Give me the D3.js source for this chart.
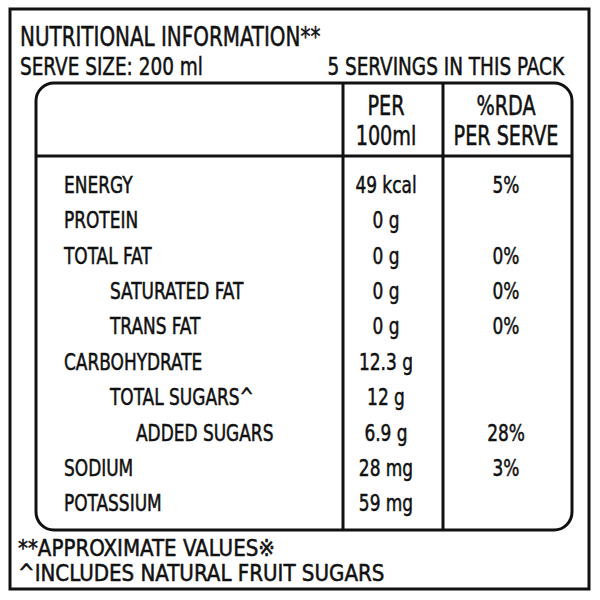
<!DOCTYPE html>
<html><head><meta charset="utf-8">
<script src="https://cdn.jsdelivr.net/npm/d3@7"></script>
<style>body{margin:0;background:#fff}text{font-family:"DejaVu Sans",sans-serif;font-stretch:condensed;fill:#111;stroke:#111;stroke-width:0.5}</style>
</head><body>
<script>
// label data
var nutrients = ['ENERGY','PROTEIN','TOTAL FAT','SATURATED FAT','TRANS FAT','CARBOHYDRATE','TOTAL SUGARS^','ADDED SUGARS','SODIUM','POTASSIUM'];
var indent = [0,0,0,1,1,0,1,2,0,0];
var per100 = ['49 kcal','0 g','0 g','0 g','0 g','12.3 g','12 g','6.9 g','28 mg','59 mg'];
var rdaServe = ['5%','','0%','0%','0%','','','28%','3%',''];

var width = 600, height = 600;
var svg = d3.select('body').append('svg').attr('width', width).attr('height', height);

svg.append('rect').attr('x', 10).attr('y', 9).attr('width', 579).attr('height', 580)
	.attr('fill', 'none').attr('stroke', '#111').attr('stroke-width', 3);

svg.append('text').attr('x', 20).attr('y', 46).attr('font-size', 27).text('NUTRITIONAL INFORMATION**');
svg.append('text').attr('x', 20).attr('y', 75).attr('font-size', 25).text('SERVE SIZE: 200 ml');
svg.append('text').attr('x', 564).attr('y', 75).attr('font-size', 25).attr('text-anchor', 'end').text('5 SERVINGS IN THIS PACK');

// inner box
svg.append('rect').attr('x', 36).attr('y', 83).attr('width', 536).attr('height', 447).attr('rx', 18)
	.attr('fill', 'none').attr('stroke', '#111').attr('stroke-width', 3);
svg.append('line').attr('x1', 36).attr('x2', 572).attr('y1', 156).attr('y2', 156).attr('stroke', '#111').attr('stroke-width', 3);
[343, 443].forEach(function(x) {
	svg.append('line').attr('x1', x).attr('x2', x).attr('y1', 83).attr('y2', 530).attr('stroke', '#111').attr('stroke-width', 3);
});

var colX = {val: 386, rda: 506};
[['PER', 115], ['100ml', 145]].forEach(function(t) {
	svg.append('text').attr('x', colX.val).attr('y', t[1]).attr('font-size', 26).attr('text-anchor', 'middle').text(t[0]);
});
[['%RDA', 115], ['PER SERVE', 145]].forEach(function(t) {
	svg.append('text').attr('x', colX.rda).attr('y', t[1]).attr('font-size', 26).attr('text-anchor', 'middle').text(t[0]);
});

var y = d3.scaleBand().domain(nutrients).range([167, 521]);
var indentX = d3.scaleOrdinal().domain([0, 1, 2]).range([64, 110, 136]);

var rows = svg.selectAll('g.row').data(nutrients).join('g')
	.attr('transform', function(d) { return 'translate(0,' + (y(d) + y.bandwidth() / 2 + 8) + ')'; });
rows.append('text').attr('x', function(d, i) { return indentX(indent[i]); })
	.attr('font-size', 23).text(function(d) { return d; });
rows.append('text').attr('x', colX.val).attr('text-anchor', 'middle')
	.attr('font-size', 23).text(function(d, i) { return per100[i]; });
rows.append('text').attr('x', colX.rda).attr('text-anchor', 'middle')
	.attr('font-size', 23).text(function(d, i) { return rdaServe[i]; });

svg.append('text').attr('x', 18).attr('y', 556).attr('font-size', 23).attr('class', 'foot').text('**APPROXIMATE VALUES\u203B');
svg.append('text').attr('x', 18).attr('y', 581).attr('font-size', 23).attr('class', 'foot').text('^INCLUDES NATURAL FRUIT SUGARS');

// squeeze glyphs to look condensed like the printed label
svg.selectAll('text').each(function() {
	var len = this.getComputedTextLength();
	if (len > 0) {
		var k = d3.select(this).classed('foot') ? 0.96 : 0.82;
		d3.select(this).attr('textLength', len * k).attr('lengthAdjust', 'spacingAndGlyphs');
	}
});
</script>
</body></html>
